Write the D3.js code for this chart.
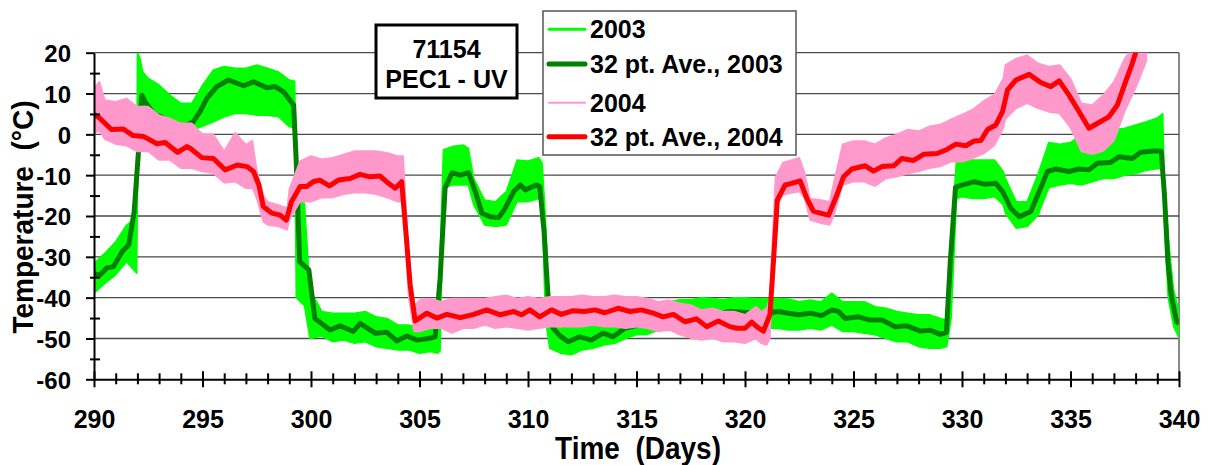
<!DOCTYPE html>
<html><head><meta charset="utf-8">
<script src="https://cdn.jsdelivr.net/npm/d3@7"></script>
<style>
html,body{margin:0;padding:0;background:#fff;}
svg{display:block;}
text{font-family:"Liberation Sans",Arial,sans-serif;font-weight:bold;fill:#000;}
</style>
</head><body>
<svg id="chart" width="1214" height="465"></svg>
<script>
// ---------------- DATA ----------------
const xMajor = [290,295,300,305,310,315,320,325,330,335,340];
const xMinor = d3.range(290,341,1);
const yMajor = [20,10,0,-10,-20,-30,-40,-50,-60];
const yMinor = [15,5,-5,-15,-25,-35,-45,-55];
const seriesNames = ["2003","32 pt. Ave., 2003","2004","32 pt. Ave., 2004"];
const titleLines = ["71154","PEC1 - UV"];

// 2003 raw readings (upper / lower edge of the plotted trace)
const raw03Days = [290.0,290.5,291.0,291.5,291.9,291.97,292.0,292.1,292.25,292.5,293.0,293.5,294.0,294.5,295.0,295.5,296.0,296.5,297.0,297.5,298.0,298.5,299.0,299.25,299.32,299.7,299.95,300.5,301.0,301.5,302.0,302.5,303.0,303.5,304.0,304.5,305.0,305.5,305.85,305.95,306.1,306.5,307.0,307.25,307.5,308.0,308.5,309.0,309.5,310.0,310.5,310.65,310.8,311.0,311.5,312.0,312.5,313.0,313.5,314.0,314.5,315.0,315.5,316.0,316.5,317.0,317.5,318.0,318.5,319.0,319.5,320.0,320.5,321.0,321.5,322.0,322.5,323.0,323.5,324.0,324.5,325.0,325.5,326.0,326.5,327.0,327.5,328.0,328.5,329.0,329.3,329.5,329.75,330.0,330.5,331.0,331.5,331.9,332.0,332.5,333.0,333.5,334.0,334.5,335.0,335.5,336.0,336.5,337.0,337.5,338.0,338.5,339.0,339.25,339.32,339.5,339.75,340.0];
const raw03Hi = [-31.6,-29.1,-26.3,-22.2,-20.6,-20,20,19,15.3,13.7,12.1,9.6,7.6,7.6,12.0,15.8,16.6,16.2,16.2,17.0,16.2,15.3,13.3,13.0,-15,-17,-38,-43.4,-43.8,-43.8,-43.8,-43.4,-44.7,-45.1,-46.7,-46.7,-47.5,-47.1,-46.7,-30,-3.8,-3.0,-2.6,-3.4,-10.8,-16.1,-16.5,-14.0,-6.3,-6.5,-5.7,-7,-20,-45.9,-47.5,-46.7,-46.3,-46.7,-45.1,-45.9,-44.2,-43.4,-43.0,-41.5,-41.0,-40.5,-40.5,-40.0,-40.2,-40.5,-40.0,-40.0,-40.2,-40.2,-40.2,-40.3,-41.0,-40.6,-41.0,-38.9,-41.0,-41.0,-41.0,-42.2,-42.6,-43.4,-43.8,-44.2,-44.2,-45.1,-45.5,-25,-5.9,-5.9,-6.3,-6.3,-6.3,-9.1,-10.8,-16.5,-16.5,-9.8,-2.0,-2.4,-2.0,0.0,-0.8,1.2,1.2,1.5,2.3,3.1,4.0,5.1,-10,-25,-38,-43.4];
const raw03Lo = [-38.9,-36.5,-34.4,-31.2,-33.6,-34,-15,2,5.5,5.1,2.7,1.5,0.0,0.8,2.0,3.1,4.3,5.1,5.1,4.7,4.7,4.3,1.9,1.5,-40,-42,-50,-49.4,-50.8,-50.4,-51.2,-50.8,-52.0,-52.4,-52.8,-52.8,-53.6,-53.2,-53.6,-53,-13.2,-12.4,-12.4,-12.4,-17.3,-22.2,-22.6,-22.2,-16.5,-16.5,-15.7,-17,-45,-52.4,-53.6,-54.0,-52.8,-52.4,-51.6,-51.2,-50.0,-49.1,-49.0,-48.0,-48.0,-47.0,-47.0,-47.0,-47.0,-47.0,-47.0,-47.5,-47.5,-47.5,-47.5,-47.9,-47.9,-47.5,-47.9,-46.7,-48.3,-48.3,-48.7,-49.1,-50.0,-50.8,-50.8,-52.0,-52.4,-52.4,-52.0,-45,-15.7,-15.3,-15.7,-15.7,-15.3,-17.3,-19.3,-23.0,-22.6,-19.8,-13.1,-12.4,-12.0,-12.4,-11.6,-10.8,-10.8,-10.0,-9.6,-8.8,-8.4,-8.4,-20,-40,-47,-49.9];

// 2003 32-point average
const ave03Days = [290.0,290.25,290.6,290.9,291.3,291.6,291.85,292.05,292.2,292.4,292.7,292.9,293.1,293.4,293.66,293.97,294.28,294.58,294.89,295.2,295.66,296.2,296.9,297.35,297.97,298.35,298.74,299.2,299.32,299.48,299.9,300.18,300.88,301.34,301.95,302.26,302.95,303.5,303.95,304.42,304.88,305.42,305.72,305.95,306.18,306.5,306.88,307.26,307.57,307.88,308.26,308.65,308.95,309.34,309.65,309.88,310.38,310.54,310.74,310.92,311.15,311.46,311.85,312.38,312.92,313.46,313.92,314.46,315.08,315.6,316.2,316.8,317.4,318.0,318.6,319.31,319.92,320.54,321.08,321.54,322.0,322.46,323.0,323.54,324.0,324.31,324.62,325.23,325.77,326.31,326.92,327.46,328.08,328.54,329.0,329.28,329.46,329.7,329.88,330.57,331.03,331.56,331.87,332.25,332.64,333.17,333.56,333.94,334.32,334.93,335.39,335.85,336.24,336.85,337.23,337.85,338.23,338.84,339.18,339.33,339.49,339.64,339.89,340.0];
const ave03 = [-34.0,-34.6,-32.7,-32.4,-28.7,-27.1,-19.0,-4.2,9.6,7.6,5.5,4.7,4.3,3.3,2.7,1.9,2.3,3.1,5.6,8.8,11.7,13.3,11.9,12.9,11.4,11.7,10.4,7.2,-6.7,-31.2,-33.2,-45.1,-47.9,-46.9,-48.3,-46.3,-48.7,-48.5,-50.6,-49.4,-50.4,-50.0,-49.6,-35.3,-13.1,-9.4,-10.0,-9.4,-14.0,-19.3,-20.2,-20.4,-18.1,-14.0,-12.4,-13.6,-12.4,-12.8,-23.8,-39.3,-47.4,-49.3,-50.8,-49.6,-50.4,-48.7,-49.6,-47.5,-46.7,-46.0,-45.5,-45.0,-44.6,-44.3,-44.0,-43.4,-43.6,-43.8,-43.7,-43.4,-43.8,-44.2,-43.8,-44.4,-43.0,-43.4,-45.1,-44.7,-45.5,-45.5,-47.1,-46.9,-48.2,-48.0,-49.0,-48.5,-31.2,-13.0,-12.6,-11.6,-12.2,-12.0,-14.0,-18.1,-20.2,-18.9,-14.0,-9.1,-8.5,-9.1,-8.5,-8.7,-7.1,-6.9,-5.5,-5.9,-4.4,-4.1,-4.1,-14.9,-31.2,-39.3,-45.9,-46.3];

// 2004 raw readings (upper / lower edge of the plotted trace)
const raw04Days = [290.0,290.25,290.5,291.0,291.5,292.0,292.5,293.0,293.5,294.0,294.5,295.0,295.5,296.0,296.5,297.0,297.3,297.5,297.8,298.0,298.5,298.9,299.0,299.5,300.0,300.5,301.0,301.5,302.0,302.5,303.0,303.5,304.0,304.25,304.5,304.75,305.0,305.5,306.0,306.5,307.0,307.5,308.0,308.5,309.0,309.5,310.0,310.5,311.0,311.5,312.0,312.5,313.0,313.5,314.0,314.5,315.0,315.5,316.0,316.5,317.0,317.5,318.0,318.5,319.0,319.5,320.0,320.5,320.75,321.0,321.15,321.4,321.75,322.0,322.5,322.75,323.0,323.5,323.9,324.1,324.5,325.0,325.5,326.0,326.5,327.0,327.5,328.0,328.5,329.0,329.5,330.0,330.5,331.0,331.5,331.9,332.0,332.5,333.0,333.5,334.0,334.5,335.0,335.5,336.0,336.5,337.0,337.5,338.0,338.5];
const raw04Hi = [11.3,12.9,8.4,8.0,8.8,6.8,6.8,4.7,3.9,2.7,2.7,0.0,0.0,-4.1,0.4,-2.5,-1.5,-8.7,-14.9,-16.5,-17.3,-18.1,-13.5,-6.5,-5.3,-6.1,-5.7,-4.9,-4.1,-4.1,-4.1,-4.5,-5.3,-5.3,-30,-42.0,-40.6,-40.2,-41.0,-40.2,-40.2,-40.2,-40.2,-39.8,-39.4,-40.2,-39.8,-40.2,-39.8,-39.8,-39.8,-39.4,-39.8,-39.8,-39.4,-39.8,-39.8,-40.2,-41.0,-40.6,-41.4,-41.8,-43.0,-42.6,-43.4,-43.4,-44.2,-42.2,-43.4,-42.6,-40,-10.6,-6.9,-6.5,-5.7,-9.4,-15.7,-16.1,-16.5,-11.6,-2.4,-1.6,-1.6,-2.4,-0.8,0.0,1.2,0.8,2.0,2.4,3.7,4.9,6.1,8.2,9.8,13.7,17.0,18.6,19.4,17.4,16.6,17.0,13.7,7.6,7.2,9.6,12.9,18.6,22.0,26.0];
const raw04Lo = [0.4,0.8,-1.2,-2.4,-2.8,-4.2,-4.2,-6.3,-6.3,-8.3,-8.3,-9.1,-9.5,-11.9,-11.6,-13.2,-13.2,-15.7,-21.4,-22.2,-22.6,-23.4,-21.0,-16.5,-16.5,-15.5,-15.5,-14.7,-14.3,-14.3,-14.7,-15.5,-16.5,-16.5,-40,-48.3,-48.3,-47.5,-47.5,-48.7,-47.5,-47.5,-46.7,-47.5,-47.1,-47.5,-47.9,-47.5,-47.1,-47.1,-47.1,-47.1,-46.7,-47.1,-47.1,-47.5,-47.1,-47.5,-48.3,-47.9,-49.1,-49.9,-50.4,-49.9,-50.8,-50.8,-51.2,-50.0,-51.2,-51.6,-50,-18,-14.9,-14.5,-14.0,-15.7,-21.0,-21.8,-22.2,-19.8,-12.4,-11.6,-11.6,-12.7,-10.8,-10.4,-9.6,-9.1,-8.3,-7.9,-6.7,-6.7,-5.9,-4.7,-2.7,1.5,3.7,6.4,7.6,6.4,5.5,5.1,1.6,-4.2,-4.9,-4.1,-1.6,5.6,11.3,18.0];

// 2004 32-point average
const ave04Days = [290.0,290.28,290.8,291.35,291.8,292.28,292.9,293.28,293.85,294.28,294.43,294.97,295.5,296.05,296.6,297.05,297.35,297.6,297.8,298.2,298.58,298.86,299.1,299.5,299.8,300.1,300.4,300.85,301.26,301.8,302.26,302.72,303.18,303.57,303.88,304.18,304.42,304.57,304.8,305.03,305.34,305.8,306.26,306.88,307.5,308.1,308.72,309.34,309.7,310.08,310.54,311.08,311.54,312.08,312.6,313.08,313.54,314.15,314.7,315.23,315.77,316.23,316.7,317.23,317.77,318.23,318.77,319.3,319.62,320.0,320.31,320.54,320.85,321.15,321.31,321.49,321.85,322.15,322.54,322.85,323.15,323.46,323.85,324.23,324.54,324.92,325.54,325.92,326.31,326.85,327.23,327.77,328.23,328.85,329.31,329.72,330.18,330.57,330.87,331.18,331.56,331.87,332.1,332.48,333.1,333.63,334.09,334.48,334.93,335.39,335.85,336.31,336.77,337.16,337.54,337.85,338.0,338.3];
const ave04 = [4.9,3.9,1.2,1.3,-0.3,-0.5,-2.3,-2.0,-4.4,-3.0,-3.4,-5.7,-5.9,-8.7,-7.5,-7.9,-9.1,-12.4,-17.7,-19.3,-19.8,-21.0,-16.5,-12.8,-12.8,-11.6,-11.2,-12.6,-11.2,-10.8,-9.8,-10.4,-10.2,-12.0,-13.2,-11.6,-27.0,-36.9,-45.7,-44.9,-43.8,-45.0,-44.1,-44.9,-44.1,-43.0,-44.2,-43.4,-44.2,-43.0,-44.7,-43.0,-44.1,-43.2,-43.4,-43.0,-43.7,-42.6,-43.4,-43.0,-43.8,-44.7,-44.1,-45.9,-45.2,-47.1,-45.7,-47.1,-47.5,-47.5,-46.0,-47.1,-48.2,-44.2,-31.2,-16.1,-12.4,-12.0,-11.4,-15.7,-18.8,-19.3,-19.8,-14.9,-10.4,-8.5,-7.7,-9.0,-7.9,-7.7,-5.9,-6.4,-4.9,-4.7,-3.7,-2.4,-2.8,-1.6,-1.5,1.2,2.3,5.6,10.9,13.3,14.7,12.7,11.7,13.1,9.6,5.6,1.5,2.9,4.3,7.2,12.9,17.4,20.0,25.0];

// ---------------- CHART ----------------
const colRaw03 = "#00ff00", colAve03 = "#008000", colRaw04 = "#ff99cc", colAve04 = "#ff0000";
const x = d3.scaleLinear().domain([290,340]).range([94,1179]);
const y = d3.scaleLinear().domain([-60,20]).range([379.3,52.7]);
const svg = d3.select("#chart");
svg.append("rect").attr("width",1214).attr("height",465).attr("fill","#fff");

svg.append("defs").append("clipPath").attr("id","plotclip")
  .append("rect").attr("x",x(290)).attr("y",y(20)).attr("width",x(340)-x(290)).attr("height",y(-60)-y(20));

// gridlines and right border
svg.append("g").selectAll("line").data(yMajor.filter(v=>v>-60)).join("line")
  .attr("x1",x(290)).attr("x2",x(340)).attr("y1",d=>y(d)).attr("y2",d=>y(d))
  .attr("stroke","#4a4a4a").attr("stroke-width",1.3);
svg.append("line").attr("x1",x(340)).attr("x2",x(340)).attr("y1",y(20)).attr("y2",y(-60))
  .attr("stroke","#4a4a4a").attr("stroke-width",1.3);

// data (drawing order: 2003 raw, 2003 ave, 2004 raw, 2004 ave)
const gd = svg.append("g").attr("clip-path","url(#plotclip)");
const band = d3.area().x(d=>x(d[0])).y0(d=>y(d[2])).y1(d=>y(d[1]));
const line = d3.line().x(d=>x(d[0])).y(d=>y(d[1]));
gd.append("path").datum(d3.zip(raw03Days,raw03Hi,raw03Lo)).attr("d",band)
  .attr("fill",colRaw03).attr("stroke",colRaw03).attr("stroke-width",1.5).attr("stroke-linejoin","round");
gd.append("path").datum(d3.zip(ave03Days,ave03)).attr("d",line)
  .attr("fill","none").attr("stroke",colAve03).attr("stroke-width",5).attr("stroke-linejoin","round");
gd.append("path").datum(d3.zip(raw04Days,raw04Hi,raw04Lo)).attr("d",band)
  .attr("fill",colRaw04).attr("stroke",colRaw04).attr("stroke-width",1.5).attr("stroke-linejoin","round");
gd.append("path").datum(d3.zip(ave04Days,ave04)).attr("d",line)
  .attr("fill","none").attr("stroke",colAve04).attr("stroke-width",5).attr("stroke-linejoin","round");

// y axis
const yAx = svg.append("g").attr("transform",`translate(${x(290)},0)`)
  .call(d3.axisLeft(y).tickValues(yMajor).tickSize(8).tickSizeOuter(0).tickPadding(15).tickFormat(d=>String(d)));
const yMin = svg.append("g").attr("transform",`translate(${x(290)},0)`)
  .call(d3.axisLeft(y).tickValues(yMinor).tickSize(5).tickSizeOuter(0).tickFormat(""));
yMin.selectAll(".tick line").attr("x1",6).attr("x2",-4);
yMin.select(".domain").remove();
// x axis
const xAx = svg.append("g").attr("transform",`translate(0,${y(-60)})`)
  .call(d3.axisBottom(x).tickValues(xMajor).tickSize(8).tickSizeOuter(0).tickFormat(d=>String(d)));
xAx.selectAll(".tick line").attr("y1",-8).attr("y2",8);
const xMin = svg.append("g").attr("transform",`translate(0,${y(-60)})`)
  .call(d3.axisBottom(x).tickValues(xMinor.filter(v=>v%5!==0)).tickSize(5).tickSizeOuter(0).tickFormat(""));
xMin.selectAll(".tick line").attr("y1",-6).attr("y2",5);
xMin.select(".domain").remove();
[yAx,yMin,xAx,xMin].forEach(g=>{
  g.selectAll("line").attr("stroke","#000").attr("stroke-width",2);
  g.selectAll(".domain").attr("stroke","#000").attr("stroke-width",2);
  g.selectAll("text").attr("font-family",null).attr("font-size",null);
});
yAx.selectAll("text").style("font-size","24px").attr("dy","0.37em");
xAx.selectAll("text").style("font-size","25px").attr("y",31).attr("dy","0.7em");

// axis titles
svg.append("text").attr("transform","translate(638,459) scale(1,1.1)").attr("text-anchor","middle")
  .style("font-size","28px").style("white-space","pre").text("Time  (Days)");
svg.append("text").attr("transform","translate(33,217) rotate(-90) scale(1,1.08)").attr("text-anchor","middle")
  .style("font-size","28px").style("white-space","pre").text("Temperature  (°C)");

// title box
svg.append("rect").attr("x",376).attr("y",25).attr("width",141).attr("height",73)
  .attr("fill","#fff").attr("stroke","#000").attr("stroke-width",3);
svg.selectAll(".ttl").data(titleLines).join("text").attr("class","ttl")
  .attr("x",446.5).attr("y",(d,i)=>57.5+i*30).attr("text-anchor","middle")
  .style("font-size","25px").text(d=>d);

// legend
const lg = svg.append("g");
lg.append("rect").attr("x",543).attr("y",11).attr("width",253).attr("height",144)
  .attr("fill","#fff").attr("stroke","#555").attr("stroke-width",1.5);
const legCols = [colRaw03,colAve03,colRaw04,colAve04];
const legW = [3,5,2,5];
const rowY = [29.3,64,102.7,136.7];
seriesNames.forEach((n,i)=>{
  lg.append("line").attr("x1",549).attr("x2",585).attr("y1",rowY[i]).attr("y2",rowY[i])
    .attr("stroke",legCols[i]).attr("stroke-width",legW[i]).attr("stroke-linecap","round");
  lg.append("text").attr("x",590).attr("y",rowY[i]+9).style("font-size","25px").text(n);
});
</script>
</body></html>
